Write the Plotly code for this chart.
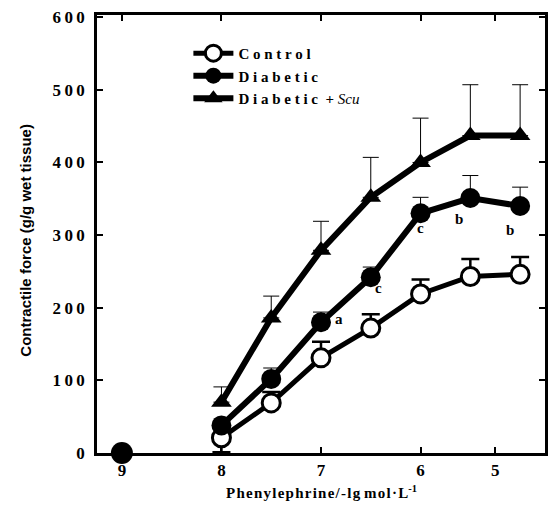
import plotly.graph_objects as go

# ---- data ----
conc = [8, 7.5, 7, 6.5, 6, 5.5, 5]          # -lg mol/L positions
baseline_x = [9]
baseline_y = [0]

control = [21, 69, 131, 172, 219, 243, 246]
control_err_up = [0, 15, 22, 19, 20, 24, 24]
control_err_down = [20, 0, 0, 0, 0, 0, 0]

diabetic = [38, 102, 180, 242, 330, 351, 340]
diabetic_err = [0, 15, 14, 14, 22, 31, 26]
diabetic_sig = ["", "", "a", "c", "c", "b", "b"]

scu = [70, 186, 279, 352, 400, 437, 437]
scu_err = [21, 30, 40, 55, 61, 70, 70]

xtick_vals = [9, 8, 7, 6, 5.25]
xtick_text = ["9", "8", "7", "6", "5"]
ytick_vals = [0, 100, 200, 300, 400, 500, 600]
ytick_text = ["0", "100", "200", "300", "400", "500", "600"]

FONT = "Liberation Serif"
SANS = "Liberation Sans"
TS = "\u2009"


def spaced(s, sep=TS):
    return sep.join(list(s))


fig = go.Figure()

fig.add_trace(go.Scatter(
    x=conc, y=control, mode="lines+markers", name="<b>" + spaced("Control", " ") + "</b>",
    line=dict(color="black", width=5),
    marker=dict(symbol="circle", size=18, color="white", line=dict(color="black", width=3)),
    error_y=dict(type="data", symmetric=False, array=control_err_up, arrayminus=control_err_down,
                 color="black", thickness=2.5, width=9),
    cliponaxis=False,
))

fig.add_trace(go.Scatter(
    x=conc, y=diabetic, mode="lines+markers", name="<b>" + spaced("Diabetic", " ") + "</b>",
    line=dict(color="black", width=6),
    marker=dict(symbol="circle", size=20, color="black"),
    error_y=dict(type="data", symmetric=False, array=diabetic_err, arrayminus=[0] * len(conc),
                 color="black", thickness=1, width=8),
    cliponaxis=False,
))

fig.add_trace(go.Scatter(
    x=conc, y=scu, mode="lines+markers",
    name="<b>" + spaced("Diabetic", " ") + "  + </b><i>Scu</i>",
    line=dict(color="black", width=6),
    marker=dict(symbol="triangle-up", size=18, color="black"),
    error_y=dict(type="data", symmetric=False, array=scu_err, arrayminus=[0] * len(conc),
                 color="black", thickness=1, width=8),
    cliponaxis=False,
))

fig.add_trace(go.Scatter(
    x=baseline_x, y=baseline_y, mode="markers", showlegend=False,
    marker=dict(symbol="circle", size=22, color="black"),
    cliponaxis=False,
))

# significance letters
shifts = {2: (18, 3), 3: (8, -11), 4: (0, -15), 5: (-11, -21), 6: (-10, -24)}
for i, lab in enumerate(diabetic_sig):
    if not lab:
        continue
    dx, dy = shifts[i]
    fig.add_annotation(x=conc[i], y=diabetic[i], text="<b>" + lab + "</b>", showarrow=False,
                       xshift=dx, yshift=dy, font=dict(family=FONT, size=15, color="black"))

# axis titles
fig.add_annotation(xref="paper", yref="paper", x=0, y=0.486, xshift=-82, textangle=-90,
                   text="<b>Contractile force (g/g wet tissue)</b>", showarrow=False,
                   font=dict(family=SANS, size=15, color="black"))
fig.add_annotation(xref="paper", yref="paper", x=0.5, y=0, yshift=-50,
                   text="<b>" + spaced("Phenylephrine/-lg", "\u200a") + " " + spaced("mol·L", "\u200a") + "<sup>-1</sup></b>",
                   showarrow=False, font=dict(family=FONT, size=15, color="black"))

axis_common = dict(showgrid=False, zeroline=False, showline=True, linecolor="black", linewidth=2.5,
                   mirror="ticks", ticks="inside", ticklen=6, tickwidth=2, tickcolor="black",
                   tickfont=dict(family=FONT, size=17, color="black"))

fig.update_xaxes(range=[9.25, 4.75], tickmode="array", tickvals=xtick_vals,
                 ticktext=["<b>%s</b>" % t for t in xtick_text], **axis_common)
fig.update_yaxes(range=[0, 603], tickmode="array", tickvals=ytick_vals,
                 ticktext=["<b>%s</b>" % spaced(t) for t in ytick_text],
                 ticklabelstandoff=6, **axis_common)

fig.update_layout(
    width=551, height=516,
    margin=dict(l=97, r=3, t=15, b=63),
    paper_bgcolor="white", plot_bgcolor="white",
    font=dict(family=FONT, color="black"),
    showlegend=True,
    legend=dict(x=0.204, y=0.95, xanchor="left", yanchor="top", bgcolor="rgba(0,0,0,0)",
                font=dict(family=FONT, size=15, color="black"), tracegroupgap=0, itemwidth=40),
)

fig.write_html("out.html", post_script="document.body.style.margin='0';",
               config={"displayModeBar": False})
